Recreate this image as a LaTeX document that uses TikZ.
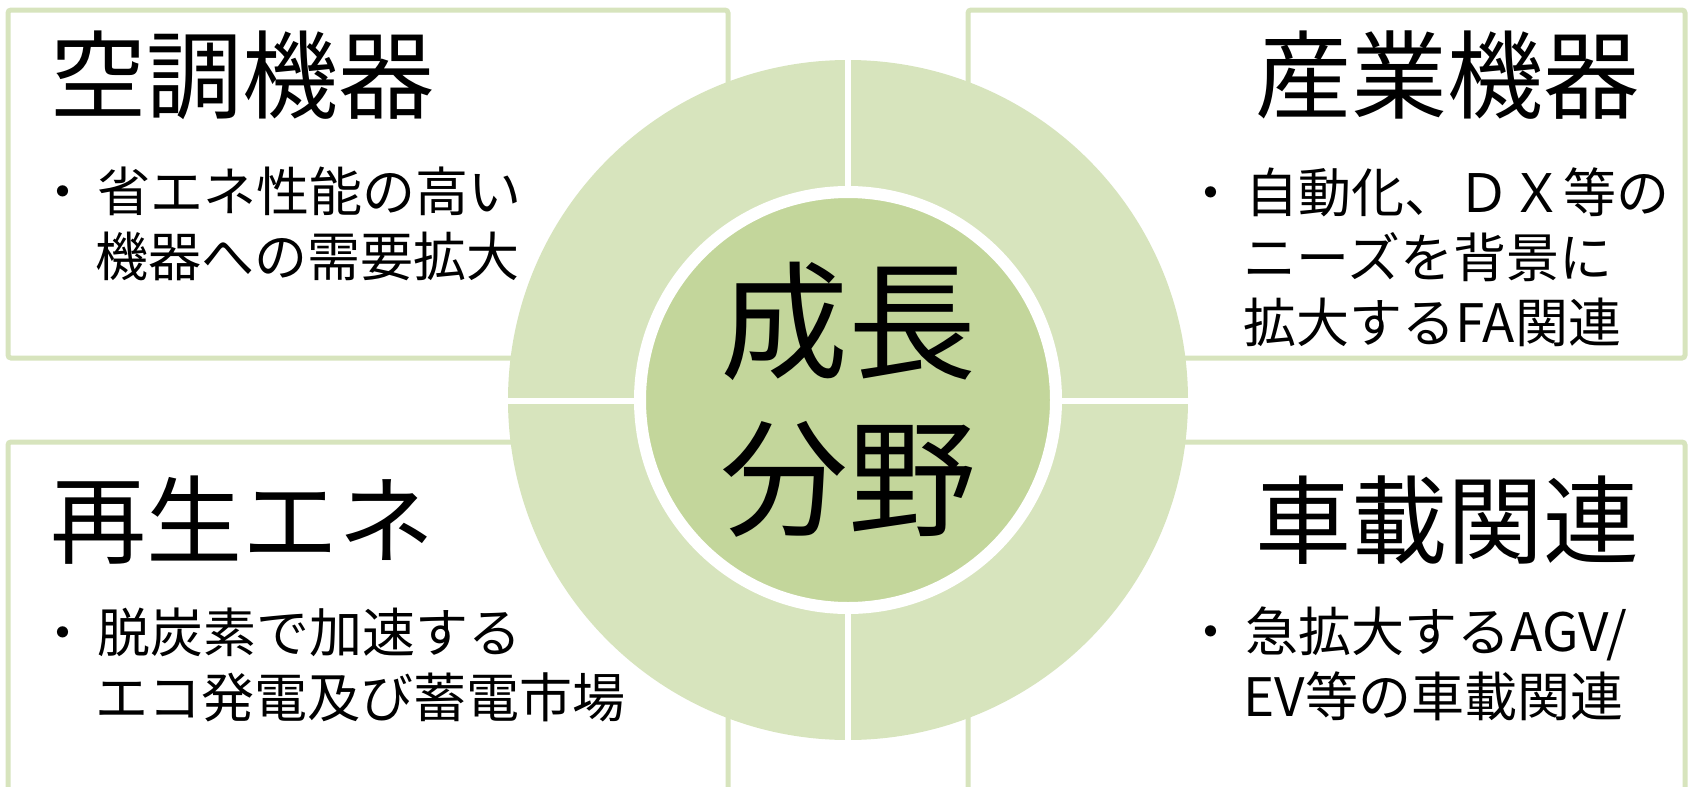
\documentclass[tikz,border=0pt]{standalone}
\usepackage{fontspec}
\setmainfont{Noto Sans CJK JP}
\definecolor{ringgreen}{HTML}{D7E4BD}
\definecolor{hubgreen}{HTML}{C3D69B}

\begin{document}
\begin{tikzpicture}[
    x=0.5pt, y=-0.5pt,
    panel/.style={draw=ringgreen, line width=2.5pt, rounded corners=1.5pt, fill=white},
    title/.style={inner sep=0pt, font=\fontsize{48}{56}\selectfont},
    point/.style={inner sep=0pt, align=left, anchor=north west, font=\fontsize{26.5}{32.5}\selectfont},
    hub/.style={circle, draw=white, line width=6pt, fill=hubgreen, minimum size=208pt, inner sep=0pt, align=center, font=\fontsize{64}{78.5}\selectfont},
    gap/.style={draw=white, line width=3pt}
  ]
    \useasboundingbox (0,0) rectangle (1692,787);
    \clip (0,0) rectangle (1692,787);

    \draw[panel] (8,10) rectangle (728,358);
    \draw[panel] (968,10) rectangle (1685,358);
    \draw[panel] (8,442) rectangle (728,830);
    \draw[panel] (968,442) rectangle (1685,830);

    \coordinate (c) at (848,400);
    \fill[ringgreen] (c) circle (340);
    \draw[gap] (848,55) -- (848,745);
    \draw[gap] (503,401) -- (1193,401);
    \node[hub] (hub) at (c) {成長\\分野};

    \node[title, anchor=west] (aircon) at (50,75) {空調機器};
    \node[point] (airconpt) at (36,167) {・\hspace*{0.16em}省エネ性能の高い\\\hspace*{1.12em}機器への需要拡大};

    \node[title, anchor=east] (industry) at (1640,75) {産業機器};
    \node[point] (industrypt) at (1184,167) {・\hspace*{0.16em}自動化、ＤＸ等の\\\hspace*{1.12em}ニーズを背景に\\\hspace*{1.12em}拡大するFA関連};

    \node[title, anchor=west] (renew) at (50,520) {再生エネ};
    \node[point] (renewpt) at (36,608) {・\hspace*{0.16em}脱炭素で加速する\\\hspace*{1.12em}エコ発電及び蓄電市場};

    \node[title, anchor=east] (vehicle) at (1640,520) {車載関連};
    \node[point] (vehiclept) at (1184,606) {・\hspace*{0.16em}急拡大するAGV/\\\hspace*{1.12em}EV等の車載関連};
  \end{tikzpicture}
\end{document}
